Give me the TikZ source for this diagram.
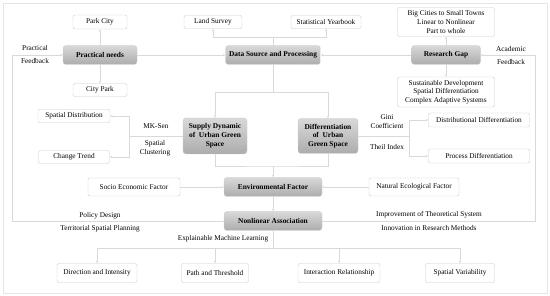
\documentclass[tikz,border=0pt]{standalone}
\usepackage{fontspec}
\setmainfont{Liberation Serif}
\usetikzlibrary{arrows.meta,positioning}
\tikzstyle{gray-box} = [rectangle, rounded corners=3pt, draw=gray!40,
    top color=gray!30, bottom color=gray!65, align=center, inner sep=1pt,
    font=\fontsize{7.4}{8.8}\selectfont\bfseries]
\tikzstyle{white-box} = [rectangle, rounded corners=2pt, draw=gray!40,
    fill=white, align=center, inner sep=1pt,
    font=\fontsize{7.3}{8.6}\selectfont]
\tikzstyle{note} = [align=center, inner sep=0pt, font=\fontsize{7.3}{8.8}\selectfont]
\tikzstyle{link} = [draw=gray!30, line width=0.6pt, -{Stealth[length=2.5pt,width=2.2pt]}]
\tikzstyle{plain-link} = [draw=gray!30, line width=0.6pt]

\begin{document}
\begin{tikzpicture}[x=1pt,y=-1pt]
\useasboundingbox (0,0) rectangle (550,296);
\draw[gray!20] (3,3) rectangle (547,293);

% main steps
\node[gray-box, minimum width=74pt, minimum height=19pt] (needs) at (100,55) {Practical needs};
\node[gray-box, minimum width=95pt, minimum height=19pt] (data) at (273,55) {Data Source and Processing};
\node[gray-box, minimum width=69pt, minimum height=19pt] (gap) at (446,55) {Research Gap};
\node[gray-box, minimum width=64pt, minimum height=36pt] (supply) at (215,136) {Supply Dynamic\\of~ Urban Green\\Space};
\node[gray-box, minimum width=60pt, minimum height=35pt] (diff) at (328,136) {Differentiation\\of~ Urban\\Green Space};
\node[gray-box, minimum width=98pt, minimum height=19pt] (env) at (273,187) {Environmental Factor};
\node[gray-box, minimum width=98pt, minimum height=19pt] (nonlinear) at (273,221) {Nonlinear Association};

% side boxes
\node[white-box, minimum width=54pt, minimum height=14pt] (parkcity) at (100,22) {Park City};
\node[white-box, minimum width=54pt, minimum height=13pt] (citypark) at (100,90) {City Park};
\node[white-box, minimum width=58pt, minimum height=13pt] (survey) at (213,22) {Land Survey};
\node[white-box, minimum width=70pt, minimum height=13pt] (yearbook) at (326,22) {Statistical Yearbook};
\node[white-box, minimum width=97pt, minimum height=29pt] (scale) at (446,22) {Big Cities to Small Towns\\Linear to Nonlinear\\Part to whole};
\node[white-box, minimum width=97pt, minimum height=30pt] (theory) at (446,92) {Sustainable Development\\Spatial Differentiation\\Complex Adaptive Systems};
\node[white-box, minimum width=72pt, minimum height=13pt] (spdist) at (74,116) {Spatial Distribution};
\node[white-box, minimum width=71pt, minimum height=13pt] (trend) at (74,157) {Change Trend};
\node[white-box, minimum width=101pt, minimum height=14pt] (distdiff) at (479,120) {Distributional Differentiation};
\node[white-box, minimum width=101pt, minimum height=14pt] (procdiff) at (479,156) {Process Differentiation};
\node[white-box, minimum width=92pt, minimum height=18pt] (socio) at (134,187) {Socio Economic Factor};
\node[white-box, minimum width=90pt, minimum height=18pt] (natural) at (414,187) {Natural Ecological Factor};
\node[white-box, minimum width=80pt, minimum height=19pt] (direction) at (97,273) {Direction and Intensity};
\node[white-box, minimum width=67pt, minimum height=19pt] (threshold) at (215,273) {Path and Threshold};
\node[white-box, minimum width=82pt, minimum height=19pt] (interaction) at (339,273) {Interaction Relationship};
\node[white-box, minimum width=69pt, minimum height=19pt] (variability) at (460,273) {Spatial Variability};

% labels
\node[note] (pfb-a) at (35,48) {Practical};
\node[note] (pfb-b) at (35,61) {Feedback};
\node[note] (afb-a) at (511,49) {Academic};
\node[note] (afb-b) at (511,62) {Feedback};
\node[note] (mksen) at (156,126) {MK-Sen};
\node[note] (clustering) at (155,148) {Spatial\\Clustering};
\node[note] (gini) at (387,122) {Gini\\Coefficient};
\node[note] (theil) at (387,147) {Theil Index};
\node[note] (policy) at (100,216) {Policy Design};
\node[note] (planning) at (100,229) {Territorial Spatial Planning};
\node[note] (xml) at (223,239) {Explainable Machine Learning};
\node[note] (improve) at (429,215) {Improvement of Theoretical System};
\node[note] (innovate) at (429,228) {Innovation in Research Methods};

% connectors
\coordinate (sjoint) at (129,136);
\coordinate (djoint) at (409,136);
\coordinate (envjoint) at (273,166);
\coordinate (outjoint) at (273,248);
\coordinate (lloop) at (12,221);
\coordinate (rloop) at (535,221);

\draw[link] (needs.north) -- (parkcity.south);
\draw[link] (needs.south) -- (citypark.north);
\draw[link] (needs.east) -- (data.west);
\draw[link] (gap.west) -- (data.east);
\draw[link] (gap.north) -- (scale.south);
\draw[link] (gap.south) -- (theory.north);
\draw[link] (data.north) -- ++(0,-8) -| (survey.south);
\draw[link] (data.north) -- ++(0,-8) -| (yearbook.south);
\draw[link] (data.south) -- ++(0,28) -| (supply.north);
\draw[link] (data.south) -- ++(0,28) -| (diff.north);
\draw[plain-link] (supply.west) -- (sjoint);
\draw[link] (sjoint) |- (spdist.east);
\draw[link] (sjoint) |- (trend.east);
\draw[plain-link] (diff.east) -- (djoint);
\draw[link] (djoint) |- (distdiff.west);
\draw[link] (djoint) |- (procdiff.west);
\draw[plain-link] (supply.south) |- (envjoint) -| (diff.south);
\draw[link] (envjoint) -- (env.north);
\draw[link] (socio.east) -- (env.west);
\draw[link] (natural.west) -- (env.east);
\draw[link] (env.south) -- (nonlinear.north);
\draw[plain-link] (nonlinear.south) -- (outjoint);
\foreach \target in {direction,threshold,interaction,variability}
    \draw[link] (outjoint) -| (\target.north);
\draw[link] (nonlinear.west) -- (lloop) |- (needs.west);
\draw[link] (nonlinear.east) -- (rloop) |- (gap.east);
\end{tikzpicture}
\end{document}
